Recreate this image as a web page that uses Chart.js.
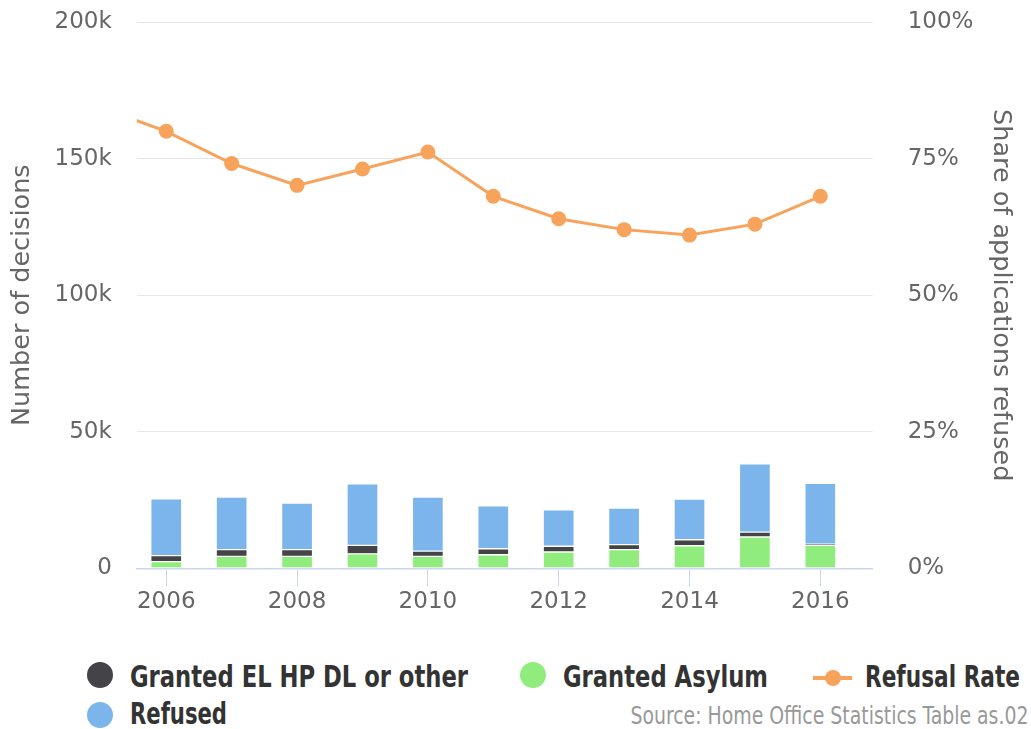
<!DOCTYPE html>
<html>
<head>
<meta charset="utf-8">
<script src="https://cdn.jsdelivr.net/npm/chart.js@4.4.1/dist/chart.umd.min.js"></script>
<style>
  html, body { margin: 0; padding: 0; background: #fff; }
  #wrap { position: relative; width: 1031px; height: 729px; overflow: hidden; }
  #box { position: absolute; left: 0; top: 0; width: 1031px; height: 640px; }
  .txt { position: absolute; font: bold 30px 'DejaVu Sans', sans-serif; font-stretch: condensed;
         line-height: 30px; color: #333; white-space: nowrap; transform-origin: left top; }
  .dot { position: absolute; width: 26px; height: 26px; border-radius: 50%; }
  .bar { position: absolute; height: 4px; }
  #source { position: absolute; right: 3px; top: 704px; font: 24px 'DejaVu Sans', sans-serif; font-stretch: condensed;
            line-height: 24px; color: #999; white-space: nowrap; transform-origin: right top; }
</style>
</head>
<body>
<div id="wrap">
  <div id="box"><canvas id="chart-decisions"></canvas></div>
  <div id="legend"></div>
  <div id="source">Source: Home Office Statistics Table as.02</div>
</div>
<script>
// years shown as bars, the line also has a 2005 point (cut off at the left edge)
const barYears = [2006, 2007, 2008, 2009, 2010, 2011, 2012, 2013, 2014, 2015, 2016];
const lineYears = [2005, 2006, 2007, 2008, 2009, 2010, 2011, 2012, 2013, 2014, 2015, 2016];

const grantedAsylum = [2500, 4400, 4400, 5300, 4400, 5000, 6000, 6900, 8300, 11500, 8400];
const grantedOther = [2200, 2500, 2500, 3100, 1900, 2200, 2100, 1800, 2200, 1800, 500];
const refused = [20800, 19200, 17000, 22600, 19800, 15700, 13300, 13400, 14900, 25000, 22200];
const refusalRate = [84.3, 80.0, 74.1, 70.1, 73.1, 76.2, 68.1, 64.0, 62.0, 61.0, 63.0, 68.1];

const xTicks = [2006, 2008, 2010, 2012, 2014, 2016];
const leftTicks = [0, 50000, 100000, 150000, 200000];
const rightTicks = [0, 25, 50, 75, 100];

const toPoints = (xs, ys) => xs.map((x, i) => ({ x: x, y: ys[i] }));

const tickFont = { family: "'DejaVu Sans', sans-serif", size: 23 };
const titleFont = { family: "'DejaVu Sans', sans-serif", size: 25.5 };

const barStyle = {
    type: "bar",
    yAxisID: "y",
    barThickness: 31,
    borderWidth: 1,
    borderColor: "#ffffff",
    borderSkipped: false,
};

const dataDecisions = {
    datasets: [
        Object.assign({ label: "Granted Asylum", data: toPoints(barYears, grantedAsylum), backgroundColor: "#90ed7d" }, barStyle),
        Object.assign({ label: "Granted EL HP DL or other", data: toPoints(barYears, grantedOther), backgroundColor: "#434348" }, barStyle),
        Object.assign({ label: "Refused", data: toPoints(barYears, refused), backgroundColor: "#7cb5ec" }, barStyle),
        {
            type: "line",
            label: "Refusal Rate",
            yAxisID: "y1",
            data: toPoints(lineYears, refusalRate),
            borderColor: "#f7a35c",
            backgroundColor: "#f7a35c",
            borderWidth: 3,
            pointRadius: 7.5,
            pointHoverRadius: 7.5,
            pointBorderWidth: 0,
            tension: 0,
            clip: 0,
        },
    ],
};

const configDecisions = {
    data: dataDecisions,
    options: {
        responsive: true,
        maintainAspectRatio: false,
        animation: false,
        layout: { padding: { left: 7, right: 15, top: 22, bottom: 22 } },
        plugins: {
            legend: { display: false },
            tooltip: { enabled: false },
        },
        scales: {
            x: {
                type: "linear",
                min: 2005.55,
                max: 2016.8,
                offset: false,
                stacked: true,
                afterBuildTicks: (scale) => { scale.ticks = xTicks.map(v => ({ value: v })); },
                ticks: {
                    autoSkip: false,
                    maxRotation: 0,
                    padding: 2,
                    color: "#666",
                    font: tickFont,
                    callback: (v) => String(v),
                },
                grid: { offset: false, drawOnChartArea: false, drawTicks: true, tickLength: 18, tickColor: "#ccd6eb" },
                border: { color: "#ccd6eb", width: 1.5 },
            },
            y: {
                position: "left",
                stacked: true,
                min: 0,
                max: 200000,
                afterBuildTicks: (scale) => { scale.ticks = leftTicks.map(v => ({ value: v })); },
                ticks: {
                    padding: 0,
                    color: "#666",
                    font: tickFont,
                    callback: (v) => v === 0 ? "0" : (v / 1000) + "k",
                },
                grid: {
                    color: (ctx) => ctx.tick && ctx.tick.value === 0 ? "rgba(0,0,0,0)" : "#e6e6e6",
                    tickLength: 25,
                    tickColor: "rgba(0,0,0,0)",
                },
                border: { display: false },
                title: { display: true, text: "Number of decisions", color: "#666", font: titleFont, padding: { top: 0, bottom: 17 } },
            },
            y1: {
                position: "right",
                min: 0,
                max: 100,
                afterBuildTicks: (scale) => { scale.ticks = rightTicks.map(v => ({ value: v })); },
                ticks: {
                    padding: 0,
                    color: "#666",
                    font: tickFont,
                    callback: (v) => v + "%",
                },
                grid: { drawOnChartArea: false, tickLength: 35, tickColor: "rgba(0,0,0,0)" },
                border: { display: false },
                title: { display: true, text: "Share of applications refused", color: "#666", font: titleFont, padding: { top: 0, bottom: 12 } },
            },
        },
    },
};

new Chart(document.getElementById("chart-decisions"), configDecisions);

// legend laid out like the original (two rows, left aligned)
const legendItems = [
    { label: "Granted EL HP DL or other", color: "#434348", kind: "dot", x: 87, row: 0, textX: 130, textW: 338 },
    { label: "Granted Asylum", color: "#90ed7d", kind: "dot", x: 520, row: 0, textX: 563, textW: 205 },
    { label: "Refusal Rate", color: "#f7a35c", kind: "line", x: 813, row: 0, textX: 865, textW: 155 },
    { label: "Refused", color: "#7cb5ec", kind: "dot", x: 87, row: 1, textX: 130, textW: 97 },
];
const rowTop = [662, 699];
const rowMid = [675, 715];
const legend = document.getElementById("legend");

// squeeze text horizontally to the narrow width of the original font
function fitWidth(el, w) {
    const real = el.getBoundingClientRect().width;
    el.style.transform = "scaleX(" + (w / real) + ")";
}

legendItems.forEach(it => {
    if (it.kind === "dot") {
        const d = document.createElement("div");
        d.className = "dot";
        d.style.left = it.x + "px";
        d.style.top = (rowMid[it.row] - 13) + "px";
        d.style.background = it.color;
        legend.appendChild(d);
    } else {
        const b = document.createElement("div");
        b.className = "bar";
        b.style.left = it.x + "px";
        b.style.width = "39px";
        b.style.top = (rowMid[it.row] + 1) + "px";
        b.style.background = it.color;
        legend.appendChild(b);
        const d = document.createElement("div");
        d.className = "dot";
        d.style.width = "16px";
        d.style.height = "16px";
        d.style.left = (it.x + 11.5) + "px";
        d.style.top = (rowMid[it.row] - 5) + "px";
        d.style.background = it.color;
        legend.appendChild(d);
    }
    const t = document.createElement("div");
    t.className = "txt";
    t.style.left = it.textX + "px";
    t.style.top = rowTop[it.row] + "px";
    t.textContent = it.label;
    legend.appendChild(t);
    fitWidth(t, it.textW);
});
fitWidth(document.getElementById("source"), 398);
</script>
</body>
</html>
